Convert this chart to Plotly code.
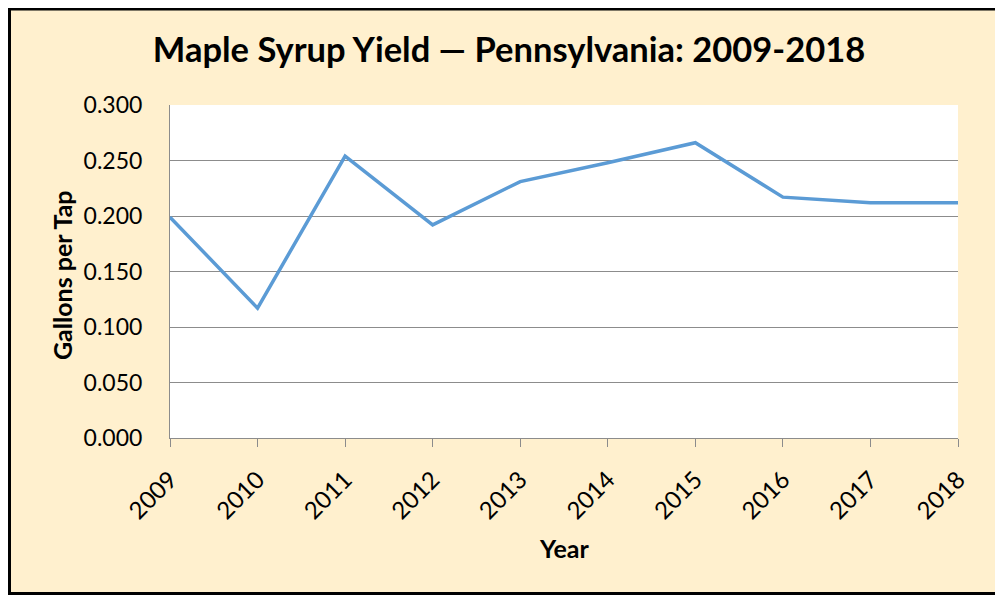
import plotly.graph_objects as go

years = [2009, 2010, 2011, 2012, 2013, 2014, 2015, 2016, 2017, 2018]
gallons_per_tap = [0.199, 0.117, 0.254, 0.192, 0.231, 0.248, 0.266, 0.217, 0.212, 0.212]
y_ticks = [0.0, 0.05, 0.10, 0.15, 0.20, 0.25, 0.30]

# The page body adds an 8px offset; positions below are in figure pixels.
W, H = 1003, 595
L, T = 162, 97
pw, ph = 788, 333
R, B = W - L - pw, H - T - ph

def px(x):
    return (x - L) / pw

def py(y):
    return (T + ph - y) / ph

FONT = "Lato"
CREAM = "#FFF0CE"

fig = go.Figure()
fig.add_trace(go.Scatter(
    x=years, y=gallons_per_tap, mode="lines",
    line=dict(color="#5B9BD5", width=3.5),
    showlegend=False, hoverinfo="x+y",
))

bx0, bx1, by0, by1 = px(1.5), px(W + 40), py(585.5), py(1)
border_path = f"M {bx1},{by1} L {bx0},{by1} L {bx0},{by0} L {bx1},{by0}"

fig.update_layout(
    width=W, height=H,
    margin=dict(l=L, r=R, t=T, b=B, pad=0),
    paper_bgcolor=CREAM,
    plot_bgcolor="white",
    font=dict(family=FONT, color="black"),
    title=dict(
        text="<b>Maple Syrup Yield — Pennsylvania: 2009-2018</b>",
        x=501 / W, xanchor="center", xref="container",
        y=1 - 42 / H, yanchor="middle", yref="container",
        font=dict(family=FONT, size=34.5, color="black"),
    ),
    xaxis=dict(
        range=[2009, 2018], tickvals=years, ticktext=[str(y) for y in years],
        tickangle=-45, ticks="outside", ticklen=8, tickcolor="#8c8c8c",
        showline=True, linecolor="#8c8c8c", linewidth=1,
        showgrid=False, zeroline=False, ticklabelstandoff=9,
        tickfont=dict(family=FONT, size=24, color="black"),
    ),
    yaxis=dict(
        range=[0, 0.3], tickvals=y_ticks, tickformat=".3f",
        ticks="", showline=True, linecolor="#8c8c8c", linewidth=1,
        showgrid=True, gridcolor="#8c8c8c", gridwidth=1, zeroline=False,
        ticklabelstandoff=22,
        tickfont=dict(family=FONT, size=23, color="black"),
    ),
    shapes=[
        dict(type="path", xref="paper", yref="paper", path=border_path,
             line=dict(color="black", width=3), layer="above"),
    ],
    annotations=[
        dict(text="<b>Year</b>", xref="paper", yref="paper",
             x=px(556), y=py(540), xanchor="center", yanchor="middle",
             showarrow=False, font=dict(family=FONT, size=25, color="black")),
        dict(text="<b>Gallons per Tap</b>", xref="paper", yref="paper",
             x=px(54), y=py(267), xanchor="center", yanchor="middle",
             textangle=-90, showarrow=False,
             font=dict(family=FONT, size=25, color="black")),
    ],
)

fig.write_html(
    "out.html",
    post_script="document.documentElement.style.overflow='hidden';"
                "document.body.style.overflow='hidden';",
)
